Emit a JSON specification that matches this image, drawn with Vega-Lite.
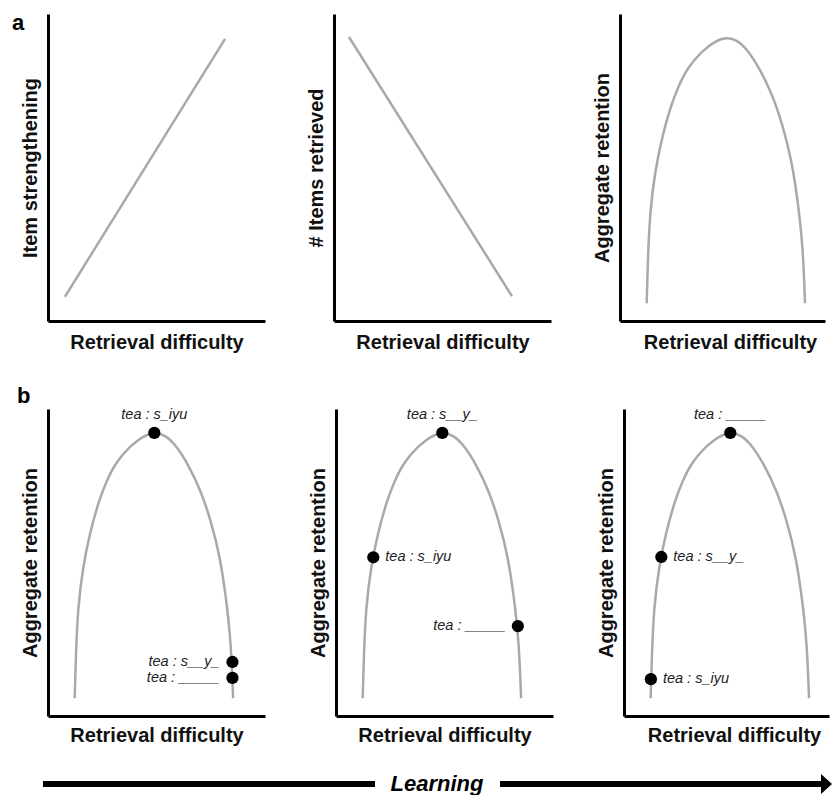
{
  "$schema": "https://vega.github.io/schema/vega-lite/v6.json",
  "padding": {"left": 12, "top": 12, "right": 0, "bottom": 0},
  "background": "white",
  "config": {
    "view": {"stroke": null},
    "font": "Liberation Sans",
    "axis": {
      "domainColor": "#000000",
      "domainWidth": 3,
      "ticks": false,
      "labels": false,
      "grid": false,
      "titleFont": "Liberation Sans",
      "titleFontSize": 20,
      "titleFontWeight": "bold",
      "titleColor": "#111111"
    },
    "axisX": {"titlePadding": 11},
    "axisY": {"titlePadding": 8}
  },
  "datasets": {
    "lineA1": [
      {"difficulty": 0.078, "value": 0.079},
      {"difficulty": 0.816, "value": 0.919}
    ],
    "lineA2": [
      {"difficulty": 0.069, "value": 0.925},
      {"difficulty": 0.820, "value": 0.081}
    ],
    "arc": [
      {"difficulty": 0.123, "value": 0.058},
      {"difficulty": 0.128, "value": 0.192},
      {"difficulty": 0.138, "value": 0.355},
      {"difficulty": 0.161, "value": 0.485},
      {"difficulty": 0.192, "value": 0.593},
      {"difficulty": 0.230, "value": 0.691},
      {"difficulty": 0.267, "value": 0.762},
      {"difficulty": 0.313, "value": 0.827},
      {"difficulty": 0.378, "value": 0.879},
      {"difficulty": 0.438, "value": 0.912},
      {"difficulty": 0.493, "value": 0.925},
      {"difficulty": 0.540, "value": 0.915},
      {"difficulty": 0.585, "value": 0.886},
      {"difficulty": 0.645, "value": 0.821},
      {"difficulty": 0.705, "value": 0.733},
      {"difficulty": 0.751, "value": 0.635},
      {"difficulty": 0.793, "value": 0.518},
      {"difficulty": 0.820, "value": 0.388},
      {"difficulty": 0.843, "value": 0.244},
      {"difficulty": 0.853, "value": 0.058}
    ],
    "dots": [
      {"panel": "b1", "difficulty": 0.49, "value": 0.922, "label": "tea : s_iyu"},
      {"panel": "b1", "difficulty": 0.850, "value": 0.176, "label": "tea : s__y_"},
      {"panel": "b1", "difficulty": 0.850, "value": 0.124, "label": "tea : _____"},
      {"panel": "b2", "difficulty": 0.49, "value": 0.922, "label": "tea : s__y_"},
      {"panel": "b2", "difficulty": 0.172, "value": 0.517, "label": "tea : s_iyu"},
      {"panel": "b2", "difficulty": 0.838, "value": 0.293, "label": "tea : _____"},
      {"panel": "b3", "difficulty": 0.49, "value": 0.922, "label": "tea : _____"},
      {"panel": "b3", "difficulty": 0.172, "value": 0.518, "label": "tea : s__y_"},
      {"panel": "b3", "difficulty": 0.124, "value": 0.12, "label": "tea : s_iyu"}
    ],
    "arrowShaft": [
      {"pos": -0.0064, "pos2": 0.4171},
      {"pos": 0.5765, "pos2": 0.9872}
    ],
    "arrowHead": [
      {"pos": 0.993}
    ],
    "arrowLabel": [
      {"pos": 0.4962, "text": "Learning"}
    ]
  },
  "spacing": 28,
  "vconcat": [
    {
      "spacing": 32,
      "vconcat": [
        {
          "spacing": 41,
          "hconcat": [
            {
              "width": 217,
              "height": 307,
              "title": {"text": "a", "anchor": "start", "frame": "group", "orient": "top", "align": "left", "offset": -21, "dx": -36, "fontSize": 22, "fontWeight": "bold", "color": "#000000", "font": "Liberation Sans"},
              "data": {"name": "lineA1"},
              "mark": {"type": "line", "color": "#a9a9a9", "strokeWidth": 2.5},
              "encoding": {
                "x": {"field": "difficulty", "type": "quantitative", "scale": {"domain": [0, 1], "nice": false}, "axis": {"title": "Retrieval difficulty"}},
                "y": {"field": "value", "type": "quantitative", "scale": {"domain": [0, 1], "nice": false}, "axis": {"title": "Item strengthening"}}
              }
            },
            {
              "width": 217,
              "height": 307,
              "data": {"name": "lineA2"},
              "mark": {"type": "line", "color": "#a9a9a9", "strokeWidth": 2.5},
              "encoding": {
                "x": {"field": "difficulty", "type": "quantitative", "scale": {"domain": [0, 1], "nice": false}, "axis": {"title": "Retrieval difficulty"}},
                "y": {"field": "value", "type": "quantitative", "scale": {"domain": [0, 1], "nice": false}, "axis": {"title": "# Items retrieved"}}
              }
            },
            {
              "width": 205,
              "height": 307,
              "data": {"name": "arc"},
              "mark": {"type": "line", "color": "#a9a9a9", "strokeWidth": 2.5, "interpolate": "basis"},
              "encoding": {
                "x": {"field": "difficulty", "type": "quantitative", "scale": {"domain": [0, 0.945], "nice": false}, "axis": {"title": "Retrieval difficulty", "titleX": 110}},
                "y": {"field": "value", "type": "quantitative", "scale": {"domain": [0, 1], "nice": false}, "axis": {"title": "Aggregate retention"}}
              }
            }
          ]
        },
        {
          "spacing": 43,
          "hconcat": [
            {
              "width": 217,
              "height": 307,
              "title": {"text": "b", "anchor": "start", "frame": "group", "orient": "top", "align": "left", "offset": -1, "dx": -31, "fontSize": 22, "fontWeight": "bold", "color": "#000000", "font": "Liberation Sans"},
              "encoding": {
                "x": {"field": "difficulty", "type": "quantitative", "scale": {"domain": [0, 1], "nice": false}, "axis": {"title": "Retrieval difficulty", "titlePadding": 9}},
                "y": {"field": "value", "type": "quantitative", "scale": {"domain": [0, 1], "nice": false}, "axis": {"title": "Aggregate retention"}}
              },
              "layer": [
                {"data": {"name": "arc"}, "mark": {"type": "line", "color": "#a9a9a9", "strokeWidth": 2.5, "interpolate": "basis"}},
                {"data": {"name": "dots"}, "transform": [{"filter": "datum.panel === 'b1'"}], "mark": {"type": "circle", "size": 150, "color": "#000000", "opacity": 1}},
                {"data": {"name": "dots"}, "transform": [{"filter": "datum.panel === 'b1' && datum.value > 0.9"}], "mark": {"type": "text", "dy": -18, "align": "center", "baseline": "middle", "fontStyle": "italic", "fontSize": 14.5, "color": "#222222"}, "encoding": {"text": {"field": "label"}}},
                {"data": {"name": "dots"}, "transform": [{"filter": "datum.panel === 'b1' && datum.value <= 0.9 && datum.difficulty > 0.5"}], "mark": {"type": "text", "dx": -13, "align": "right", "baseline": "middle", "fontStyle": "italic", "fontSize": 14.5, "color": "#222222"}, "encoding": {"text": {"field": "label"}}},
                {"data": {"name": "dots"}, "transform": [{"filter": "datum.panel === 'b1' && datum.value <= 0.9 && datum.difficulty < 0.5"}], "mark": {"type": "text", "dx": 12, "align": "left", "baseline": "middle", "fontStyle": "italic", "fontSize": 14.5, "color": "#222222"}, "encoding": {"text": {"field": "label"}}}
              ]
            },
            {
              "width": 217,
              "height": 307,
              "encoding": {
                "x": {"field": "difficulty", "type": "quantitative", "scale": {"domain": [0, 1], "nice": false}, "axis": {"title": "Retrieval difficulty", "titlePadding": 9}},
                "y": {"field": "value", "type": "quantitative", "scale": {"domain": [0, 1], "nice": false}, "axis": {"title": "Aggregate retention"}}
              },
              "layer": [
                {"data": {"name": "arc"}, "mark": {"type": "line", "color": "#a9a9a9", "strokeWidth": 2.5, "interpolate": "basis"}},
                {"data": {"name": "dots"}, "transform": [{"filter": "datum.panel === 'b2'"}], "mark": {"type": "circle", "size": 150, "color": "#000000", "opacity": 1}},
                {"data": {"name": "dots"}, "transform": [{"filter": "datum.panel === 'b2' && datum.value > 0.9"}], "mark": {"type": "text", "dy": -18, "align": "center", "baseline": "middle", "fontStyle": "italic", "fontSize": 14.5, "color": "#222222"}, "encoding": {"text": {"field": "label"}}},
                {"data": {"name": "dots"}, "transform": [{"filter": "datum.panel === 'b2' && datum.value <= 0.9 && datum.difficulty > 0.5"}], "mark": {"type": "text", "dx": -12, "align": "right", "baseline": "middle", "fontStyle": "italic", "fontSize": 14.5, "color": "#222222"}, "encoding": {"text": {"field": "label"}}},
                {"data": {"name": "dots"}, "transform": [{"filter": "datum.panel === 'b2' && datum.value <= 0.9 && datum.difficulty < 0.5"}], "mark": {"type": "text", "dx": 12, "align": "left", "baseline": "middle", "fontStyle": "italic", "fontSize": 14.5, "color": "#222222"}, "encoding": {"text": {"field": "label"}}}
              ]
            },
            {
              "width": 205,
              "height": 307,
              "encoding": {
                "x": {"field": "difficulty", "type": "quantitative", "scale": {"domain": [0, 0.945], "nice": false}, "axis": {"title": "Retrieval difficulty", "titlePadding": 9, "titleX": 110}},
                "y": {"field": "value", "type": "quantitative", "scale": {"domain": [0, 1], "nice": false}, "axis": {"title": "Aggregate retention"}}
              },
              "layer": [
                {"data": {"name": "arc"}, "mark": {"type": "line", "color": "#a9a9a9", "strokeWidth": 2.5, "interpolate": "basis"}},
                {"data": {"name": "dots"}, "transform": [{"filter": "datum.panel === 'b3'"}], "mark": {"type": "circle", "size": 150, "color": "#000000", "opacity": 1}},
                {"data": {"name": "dots"}, "transform": [{"filter": "datum.panel === 'b3' && datum.value > 0.9"}], "mark": {"type": "text", "dy": -18, "align": "center", "baseline": "middle", "fontStyle": "italic", "fontSize": 14.5, "color": "#222222"}, "encoding": {"text": {"field": "label"}}},
                {"data": {"name": "dots"}, "transform": [{"filter": "datum.panel === 'b3' && datum.value <= 0.9 && datum.difficulty > 0.5"}], "mark": {"type": "text", "dx": -12, "align": "right", "baseline": "middle", "fontStyle": "italic", "fontSize": 14.5, "color": "#222222"}, "encoding": {"text": {"field": "label"}}},
                {"data": {"name": "dots"}, "transform": [{"filter": "datum.panel === 'b3' && datum.value <= 0.9 && datum.difficulty < 0.5"}], "mark": {"type": "text", "dx": 12, "align": "left", "baseline": "middle", "fontStyle": "italic", "fontSize": 14.5, "color": "#222222"}, "encoding": {"text": {"field": "label"}}}
              ]
            }
          ]
        }
      ]
    },
    {
      "width": 784,
      "height": 20,
      "encoding": {
        "x": {"field": "pos", "type": "quantitative", "scale": {"domain": [0, 1], "nice": false}, "axis": null},
        "y": {"datum": 0.5, "type": "quantitative", "scale": {"domain": [0, 1], "nice": false}, "axis": null}
      },
      "layer": [
        {"data": {"name": "arrowShaft"}, "mark": {"type": "rule", "strokeWidth": 6, "color": "#000000", "strokeCap": "butt"}, "encoding": {"x2": {"field": "pos2"}}},
        {"data": {"name": "arrowHead"}, "mark": {"type": "point", "shape": "M-0.55,-1L0.55,0L-0.55,1Z", "size": 400, "filled": true, "color": "#000000", "opacity": 1, "strokeWidth": 0}},
        {"data": {"name": "arrowLabel"}, "mark": {"type": "text", "fontSize": 22, "fontWeight": "bold", "fontStyle": "italic", "baseline": "middle", "align": "center", "color": "#000000"}, "encoding": {"text": {"field": "text"}}}
      ]
    }
  ]
}
